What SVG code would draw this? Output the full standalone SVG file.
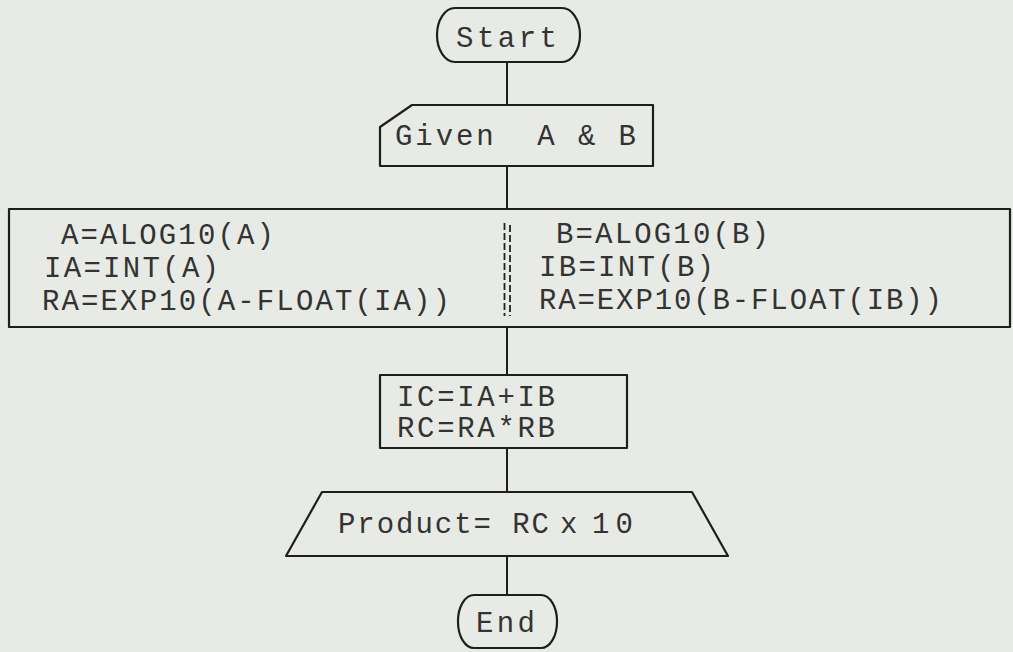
<svg xmlns="http://www.w3.org/2000/svg" width="1013" height="652" viewBox="0 0 1013 652">
<style>
.shape{fill:none;stroke:#1e1e1e;stroke-width:2.2;stroke-linejoin:round}
.conn{fill:none;stroke:#1e1e1e;stroke-width:2}
.div{fill:none;stroke:#222;stroke-width:1.8;stroke-dasharray:7 3}
text{font-family:"Liberation Mono","Courier New",monospace;font-size:29px;fill:#333}
</style>
<rect x="0" y="0" width="1013" height="652" fill="#e8ebe5"/>
<g id="connectors">
<line class="conn" x1="507" y1="62" x2="507" y2="105"/>
<line class="conn" x1="507" y1="166" x2="507" y2="209"/>
<line class="conn" x1="507" y1="327" x2="507" y2="375"/>
<line class="conn" x1="507" y1="448" x2="507" y2="492"/>
<line class="conn" x1="507" y1="556" x2="507" y2="595"/>
</g>
<g id="start">
<rect class="shape" x="437" y="8" width="143" height="54" rx="18" ry="27"/>
<text x="456" y="47" textLength="101" lengthAdjust="spacing">Start</text>
</g>
<g id="input">
<polygon class="shape" points="412,105 653,105 653,166 380,166 380,127"/>
<text x="395" y="145" textLength="241" lengthAdjust="spacing" xml:space="preserve">Given  A &amp; B</text>
</g>
<g id="process">
<rect class="shape" x="9" y="209" width="1001" height="118"/>
<line class="div" x1="504.5" y1="223" x2="504.5" y2="316"/>
<line class="div" x1="510" y1="225" x2="510" y2="316"/>
<text x="61" y="244" textLength="213" lengthAdjust="spacing">A=ALOG10(A)</text>
<text x="44" y="277" textLength="175" lengthAdjust="spacing">IA=INT(A)</text>
<text x="42" y="310" textLength="408" lengthAdjust="spacing">RA=EXP10(A-FLOAT(IA))</text>
<text x="556" y="243" textLength="213" lengthAdjust="spacing">B=ALOG10(B)</text>
<text x="539" y="276" textLength="175" lengthAdjust="spacing">IB=INT(B)</text>
<text x="539" y="309" textLength="403" lengthAdjust="spacing">RA=EXP10(B-FLOAT(IB))</text>
</g>
<g id="combine">
<rect class="shape" x="380" y="375" width="247" height="73"/>
<text x="397" y="406" textLength="158" lengthAdjust="spacing">IC=IA+IB</text>
<text x="397" y="437" textLength="158" lengthAdjust="spacing">RC=RA*RB</text>
</g>
<g id="output">
<polygon class="shape" points="322,492 692,492 728,556 286,556"/>
<text y="533"><tspan x="338" textLength="211" lengthAdjust="spacing">Product= RC</tspan><tspan x="560">x</tspan><tspan x="592" textLength="41" lengthAdjust="spacing">10</tspan></text>
</g>
<g id="end">
<rect class="shape" x="458" y="595" width="99" height="53" rx="16" ry="26"/>
<text x="476" y="632" textLength="59" lengthAdjust="spacing">End</text>
</g>
</svg>
